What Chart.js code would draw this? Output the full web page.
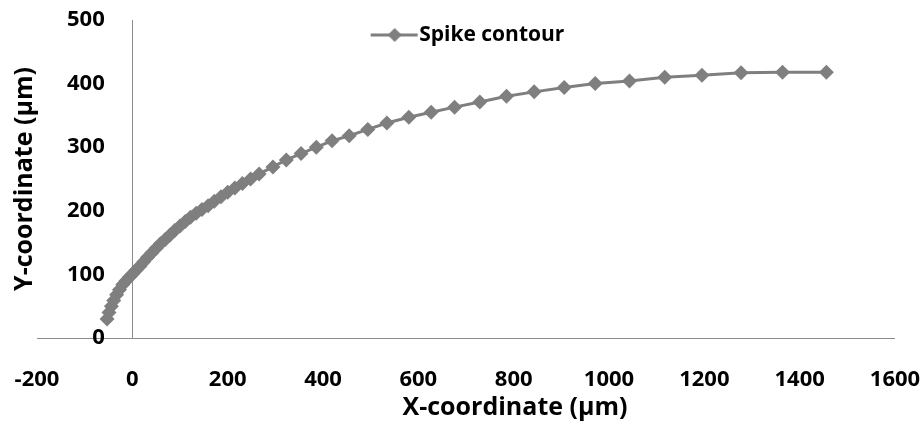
<!DOCTYPE html>
<html>
<head>
<meta charset="utf-8">
<script src="https://cdn.jsdelivr.net/npm/chart.js@4.4.1/dist/chart.umd.min.js"></script>
<style>
  html, body { margin: 0; padding: 0; background: #fff; }
  #wrap { width: 920px; height: 427px; }
</style>
</head>
<body>
<div id="wrap"><canvas id="spikeChart" width="920" height="427"></canvas></div>
<script>
// spike contour points (µm)
const xCoords = [-53, -49, -44, -39, -33, -27, -20, -13, -6, 1, 8, 16, 24, 32, 41, 50, 59, 69, 79, 89,
  100, 111, 122, 134, 146, 159, 172, 186, 200, 215, 231, 248, 266, 295, 323, 354, 386, 419, 455, 494,
  534, 580, 627, 676, 729, 785, 843, 906, 971, 1043, 1117, 1195, 1277, 1364, 1456];
const yCoords = [30, 40, 50, 59, 68, 76, 84, 90, 96, 101, 107, 113, 120, 127, 134, 141, 148, 155, 162, 169,
  176, 183, 190, 196, 202, 208, 215, 222, 229, 236, 243, 250, 258, 269, 280, 290, 300, 310, 318, 328,
  338, 347, 355, 363, 371, 380, 387, 394, 400, 404, 410, 413, 417, 418, 418];
const seriesName = "Spike contour";
const xTitle = "X-coordinate (µm)";
const yTitle = "Y-coordinate (µm)";

const GREY = "#7f7f7f";
const AXIS = "#8c8c8c";
const FONT = "'Open Sans', sans-serif";

// ================= LEGEND GLYPH (line + diamond) =================
const glyph = document.createElement("canvas");
glyph.width = 60; glyph.height = 18;
(() => {
    const g = glyph.getContext("2d");
    g.strokeStyle = GREY; g.lineWidth = 3;
    g.beginPath(); g.moveTo(12, 9); g.lineTo(59, 9); g.stroke();
    g.fillStyle = GREY;
    g.beginPath(); g.moveTo(36, 2); g.lineTo(43, 9); g.lineTo(36, 16); g.lineTo(29, 9); g.closePath(); g.fill();
})();

// ================= PLACEMENT TWEAKS =================
// legend sits inside the plot near the top; x title is right of centre
const placement = {
    id: "placement",
    afterLayout(chart) {
        const lg = chart.legend;
        const h = lg.bottom - lg.top;
        lg.top = 19.5; lg.bottom = lg.top + h;
        lg.left += 19; lg.right += 19;
    },
    afterDraw(chart) {
        const ctx = chart.ctx;
        ctx.save();
        ctx.font = "bold 25px " + FONT;
        ctx.fillStyle = "#000";
        ctx.textAlign = "center";
        ctx.textBaseline = "middle";
        ctx.fillText(xTitle, 515, 408);
        ctx.restore();
    }
};

const onlyZero = c => c.tick && c.tick.value === 0 ? AXIS : "rgba(0,0,0,0)";
const tickFont = { family: FONT, size: 22, weight: "bold" };

new Chart(document.getElementById("spikeChart"), {
    type: "scatter",
    data: {
        datasets: [{
            label: seriesName,
            data: xCoords.map((x, i) => ({x, y: yCoords[i]})),
            showLine: true,
            borderColor: GREY,
            borderWidth: 3,
            backgroundColor: GREY,
            pointStyle: "rectRot",
            pointRadius: 7.5,
            pointHoverRadius: 7.5,
            pointBorderWidth: 0,
            tension: 0
        }]
    },
    options: {
        responsive: false,
        animation: false,
        layout: { padding: { top: -16, right: 25, bottom: 0, left: 0 } },
        plugins: {
            tooltip: { enabled: false },
            legend: {
                position: "top",
                align: "center",
                labels: {
                    usePointStyle: true,
                    pointStyle: glyph,
                    pointStyleWidth: 40,
                    padding: 5,
                    color: "#000",
                    font: { family: FONT, size: 21, weight: "bold" }
                }
            }
        },
        scales: {
            x: {
                type: "linear",
                min: -200, max: 1600,
                border: { display: false },
                grid: { color: onlyZero, lineWidth: 1, drawTicks: false },
                ticks: {
                    stepSize: 200, autoSkip: false, maxRotation: 0,
                    padding: 29, color: "#000", font: tickFont,
                    callback: v => String(v)
                },
                afterFit: s => { s.height = 89; s.paddingLeft = 0; s.paddingRight = 0; }
            },
            // labels mirrored into the plot so they sit just left of x = 0
            y: {
                position: "left",
                min: 0, max: 500,
                border: { display: false },
                grid: { color: onlyZero, lineWidth: 1, drawTicks: false },
                ticks: {
                    stepSize: 100, mirror: true, crossAlign: "far", padding: 30,
                    color: "#000", font: tickFont
                },
                title: {
                    display: true, text: yTitle, color: "#000",
                    padding: { top: 10, bottom: 0 },
                    font: { family: FONT, size: 25, weight: "bold" }
                },
                afterFit: s => { s.width = 37; s.paddingTop = 0; s.paddingBottom = 0; }
            }
        }
    },
    plugins: [placement]
});
</script>
</body>
</html>
